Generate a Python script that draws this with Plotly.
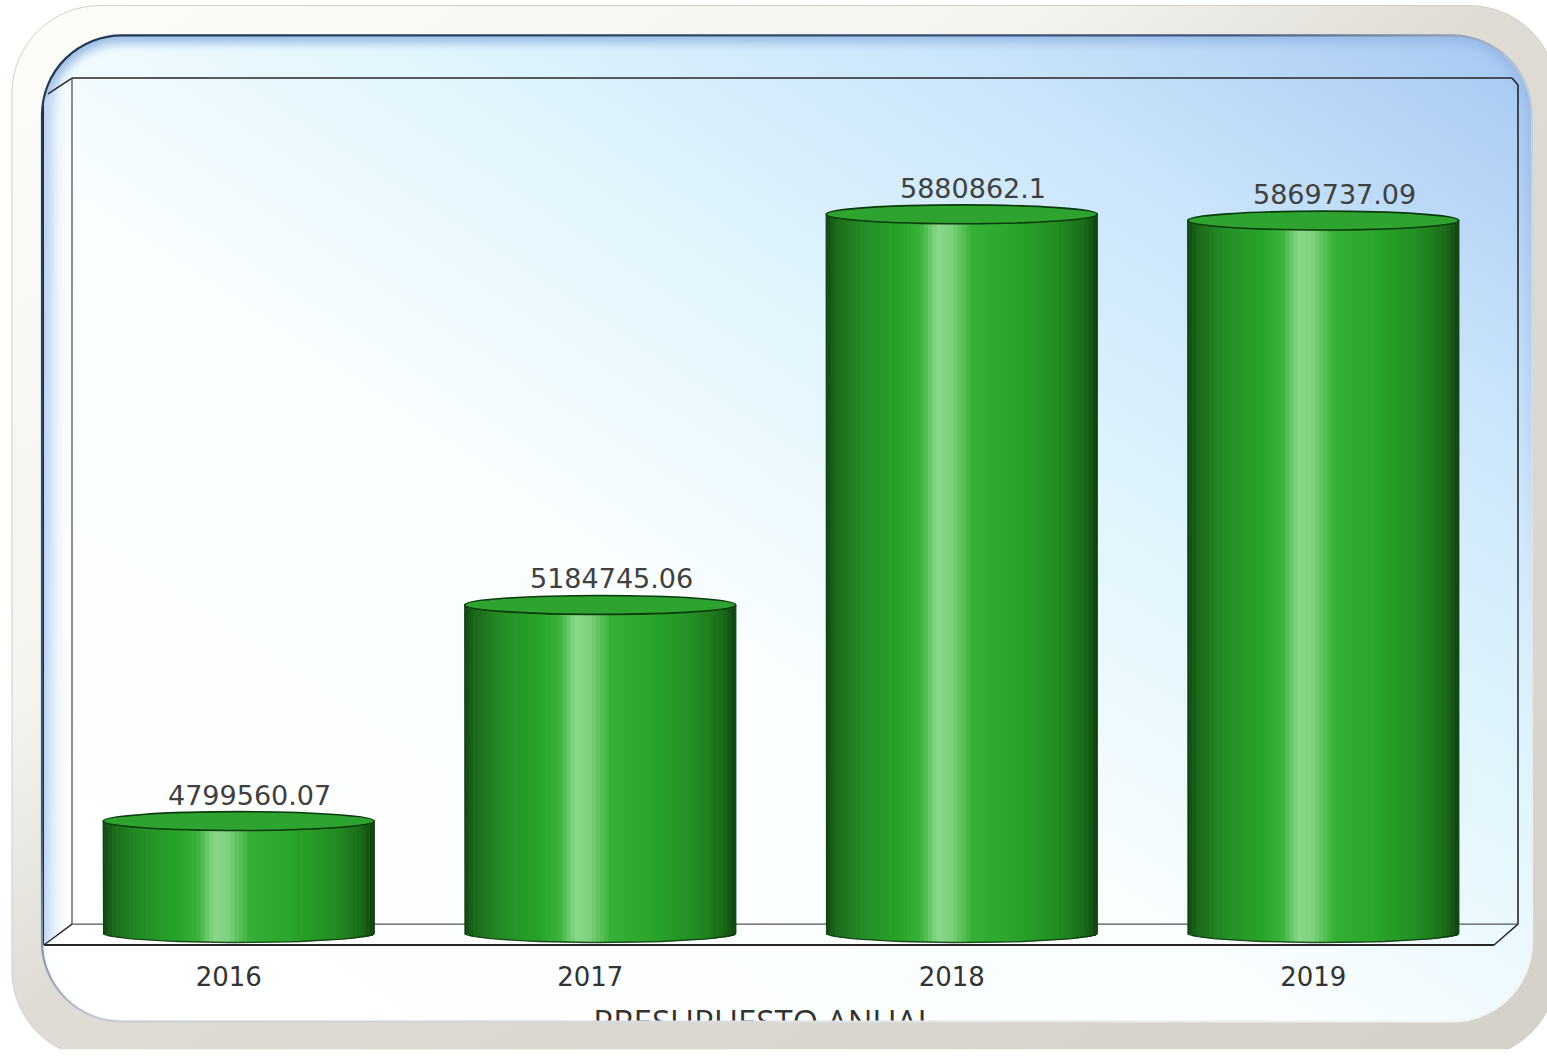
import base64
import math
import plotly.graph_objects as go

# ---------------- data ----------------
YEARS = ["2016", "2017", "2018", "2019"]
VALUES = [4799560.07, 5184745.06, 5880862.1, 5869737.09]
LABELS = [f"{v:.2f}".rstrip("0").rstrip(".") for v in VALUES]
AXIS_TITLE = "PRESUPUESTO ANUAL"
Y_FLOOR = 4600000      # value at the floor of the 3D box
Y_TOP = 6106000        # value at the top of the back wall

# ---------------- layout geometry (pixels) ----------------
W, H = 1547, 1056
PL, PR, PT, PB = 58, 1504, 88, 952
FLOOR_PX = 939
UPP = (Y_TOP - Y_FLOOR) / (FLOOR_PX - PT)           # value units per pixel
Y_RANGE = [Y_FLOOR - (PB - FLOOR_PX) * UPP, Y_TOP]
N = len(YEARS)
IDX = list(range(N))
BAR_W = 0.75
EH = 9.5 * UPP                                      # half height of cylinder ellipses


def pp(px, py):
    """pixel -> paper coordinates"""
    return (px - PL) / (PR - PL), (PB - py) / (PB - PT)


# ---------------- cylinder colours ----------------
STOPS = [
    (0.00, "#124a12"), (0.04, "#1c6c1c"), (0.14, "#258e27"), (0.28, "#29a529"),
    (0.35, "#3cb33c"), (0.41, "#8ad98a"), (0.46, "#7ed27e"), (0.54, "#36b036"),
    (0.70, "#2aa42a"), (0.85, "#238e23"), (0.95, "#1a6c1a"), (1.00, "#104210"),
]


def hex2rgb(h):
    h = h.lstrip("#")
    return [int(h[i:i + 2], 16) for i in (0, 2, 4)]


def cmap(u):
    for (a, ca), (b, cb) in zip(STOPS[:-1], STOPS[1:]):
        if a <= u <= b:
            t = (u - a) / (b - a) if b > a else 0
            c1, c2 = hex2rgb(ca), hex2rgb(cb)
            c = [round(c1[k] + (c2[k] - c1[k]) * t) for k in range(3)]
            return f"rgb({c[0]},{c[1]},{c[2]})"
    return STOPS[-1][1]


fig = go.Figure()

NS = 64
dwid = BAR_W / NS
for j in range(NS):
    u = (j + 0.5) / NS
    off = -BAR_W / 2 + j * dwid
    width = min(dwid * 1.7, BAR_W / 2 - off)
    depth = EH * math.sqrt(max(0.0, 1 - (2 * u - 1) ** 2))
    base = [Y_FLOOR - depth] * N
    fig.add_trace(go.Bar(
        x=IDX, y=[v - b for v, b in zip(VALUES, base)], base=base,
        offset=off, width=width,
        marker=dict(color=cmap(u), line=dict(width=0)),
        hoverinfo="skip", showlegend=False,
    ))

# cylinder outlines (sides + bottom curve)
ox, oy = [], []
for i, v in zip(IDX, VALUES):
    ox += [i - BAR_W / 2, i - BAR_W / 2]
    oy += [v, Y_FLOOR]
    for k in range(41):
        t = math.pi + math.pi * k / 40
        ox.append(i + BAR_W / 2 * math.cos(t))
        oy.append(Y_FLOOR + EH * math.sin(t))
    ox += [i + BAR_W / 2, None]
    oy += [v, None]
fig.add_trace(go.Scatter(x=ox, y=oy, mode="lines",
                         line=dict(color="rgba(10,55,10,0.85)", width=1.3),
                         hoverinfo="skip", showlegend=False))

# invisible trace that carries the second x axis (used for the axis title,
# drawn as a tick label so that the frame can cut it like in the original)
fig.add_trace(go.Scatter(x=[0.5], y=[Y_RANGE[1]], xaxis="x2", mode="markers",
                         marker=dict(opacity=0), hoverinfo="skip", showlegend=False))

shapes = []
# 3D box lines
LINE = "#262626"
box_lines = [
    ((72, 78), (1512, 78), LINE, 1.6),
    ((1512, 78), (1518, 85), LINE, 1.6),
    ((1518, 85), (1518, 930), LINE, 1.6),
    ((72, 78), (72, 930), "#555555", 1.3),
    ((72, 930), (1518, 930), "#555555", 1.3),
    ((44, 951), (1494, 951), LINE, 1.8),
    ((72, 930), (44, 951), LINE, 1.4),
    ((1518, 930), (1494, 951), LINE, 1.4),
    ((72, 78), (48, 94), LINE, 1.4),
    ((43, 100), (43, 951), LINE, 2.0),
]
for (x0, y0), (x1, y1), col, wd in box_lines:
    a0, b0 = pp(x0, y0)
    a1, b1 = pp(x1, y1)
    shapes.append(dict(type="line", xref="paper", yref="paper", x0=a0, y0=b0, x1=a1, y1=b1,
                       line=dict(color=col, width=wd), layer="below"))

# cylinder top faces
for i, v in zip(IDX, VALUES):
    shapes.append(dict(type="circle", xref="x", yref="y",
                       x0=i - BAR_W / 2, x1=i + BAR_W / 2, y0=v - EH, y1=v + EH,
                       fillcolor="#2fa32f", line=dict(color="#0b3a0b", width=1.6),
                       layer="above"))

annotations = []
for i, v, lab in zip(IDX, VALUES, LABELS):
    annotations.append(dict(x=i, y=v, xref="x", yref="y", text=lab, showarrow=False,
                            xshift=11, yshift=26, yanchor="middle",
                            font=dict(family="DejaVu Sans", size=27, color="#404040")))


# ---------------- decorative frame (svg images) ----------------
def rr(x, y, w, h, r):
    return (f"M{x + r},{y} H{x + w - r} A{r},{r} 0 0 1 {x + w},{y + r} V{y + h - r} "
            f"A{r},{r} 0 0 1 {x + w - r},{y + h} H{x + r} A{r},{r} 0 0 1 {x},{y + h - r} "
            f"V{y + r} A{r},{r} 0 0 1 {x + r},{y} Z")


INNER = (42, 35, 1490, 993, 80)
OUTER = (12, 5, 1545, 1060, 88)

svg_bg = f'''<svg xmlns="http://www.w3.org/2000/svg" width="{W}" height="{H}" viewBox="0 0 {W} {H}" preserveAspectRatio="none">
<defs>
<linearGradient id="bg" x1="0" y1="1" x2="1" y2="0">
<stop offset="0" stop-color="#ffffff"/>
<stop offset="0.42" stop-color="#fafeff"/>
<stop offset="0.62" stop-color="#e0f5fd"/>
<stop offset="0.8" stop-color="#cae5fb"/>
<stop offset="1" stop-color="#a5c7f2"/>
</linearGradient>
<linearGradient id="side" x1="0" y1="0" x2="1" y2="0">
<stop offset="0" stop-color="#b9d3f0"/>
<stop offset="1" stop-color="#ffffff" stop-opacity="0"/>
</linearGradient>
<linearGradient id="glow" x1="0" y1="0" x2="0.25" y2="1">
<stop offset="0" stop-color="#7fa6da" stop-opacity="0.75"/>
<stop offset="0.6" stop-color="#9dbde6" stop-opacity="0.35"/>
<stop offset="1" stop-color="#ffffff" stop-opacity="0"/>
</linearGradient>
<filter id="bl" x="-5%" y="-5%" width="110%" height="110%"><feGaussianBlur stdDeviation="5"/></filter>
</defs>
<rect width="{W}" height="{H}" fill="#ffffff"/>
<path d="{rr(*INNER)}" fill="url(#bg)"/>
<path d="{rr(*INNER)}" fill="none" stroke="url(#glow)" stroke-width="16" filter="url(#bl)"/>
<path d="M43 100 L72 78 L72 930 L43 951 Z" fill="url(#side)"/>
</svg>'''

svg_frame = f'''<svg xmlns="http://www.w3.org/2000/svg" width="{W}" height="{H}" viewBox="0 0 {W} {H}" preserveAspectRatio="none">
<defs>
<linearGradient id="fr" x1="0" y1="0" x2="1" y2="1">
<stop offset="0" stop-color="#fcfcf9"/>
<stop offset="0.33" stop-color="#f5f4ef"/>
<stop offset="0.48" stop-color="#dfdcd5"/>
<stop offset="1" stop-color="#d4d1c9"/>
</linearGradient>
<linearGradient id="ed" x1="0" y1="0" x2="1" y2="1">
<stop offset="0" stop-color="#1f3654"/>
<stop offset="0.40" stop-color="#3f5b7e"/>
<stop offset="0.52" stop-color="#c4ccd6"/>
<stop offset="1" stop-color="#f6f6f6"/>
</linearGradient>
</defs>
<path fill-rule="evenodd" fill="url(#fr)" stroke="#d2cec4" stroke-width="1" d="{rr(*OUTER)} {rr(*INNER)}"/>
<path d="{rr(*INNER)}" fill="none" stroke="url(#ed)" stroke-width="2.2"/>
</svg>'''


def uri(s):
    return "data:image/svg+xml;base64," + base64.b64encode(s.encode("utf-8")).decode("ascii")


ix, iy = pp(0, 0)
images = [
    dict(source=uri(svg_bg), xref="paper", yref="paper", x=ix, y=iy,
         sizex=W / (PR - PL), sizey=H / (PB - PT), xanchor="left", yanchor="top",
         sizing="stretch", layer="below"),
    dict(source=uri(svg_frame), xref="paper", yref="paper", x=ix, y=iy,
         sizex=W / (PR - PL), sizey=H / (PB - PT), xanchor="left", yanchor="top",
         sizing="stretch", layer="above"),
]

TITLE_X = pp(764, 0)[0]

fig.update_layout(
    width=W, height=H,
    margin=dict(l=PL, r=W - PR, t=PT, b=H - PB, pad=0),
    barmode="overlay",
    paper_bgcolor="#ffffff",
    plot_bgcolor="rgba(0,0,0,0)",
    showlegend=False,
    shapes=shapes,
    annotations=annotations,
    images=images,
    xaxis=dict(range=[-0.5, N - 0.5], tickmode="array", tickvals=IDX, ticktext=YEARS,
               showgrid=False, zeroline=False, showline=False, ticks="",
               ticklabelstandoff=13, ticklabelshift=-10,
               tickfont=dict(family="DejaVu Sans", size=26, color="#333333"),
               fixedrange=True),
    xaxis2=dict(overlaying="x", anchor="free", position=0, range=[0, 1],
                tickmode="array", tickvals=[TITLE_X], ticktext=[AXIS_TITLE],
                showgrid=False, zeroline=False, showline=False, ticks="",
                ticklabelstandoff=54,
                tickfont=dict(family="Open Sans", size=33, color="#333333"),
                fixedrange=True),
    yaxis=dict(range=Y_RANGE, visible=False, showgrid=False, zeroline=False, fixedrange=True),
)

fig.write_html("out.html", config={"displayModeBar": False},
               post_script="document.body.style.margin='0';document.body.style.overflow='hidden';")
